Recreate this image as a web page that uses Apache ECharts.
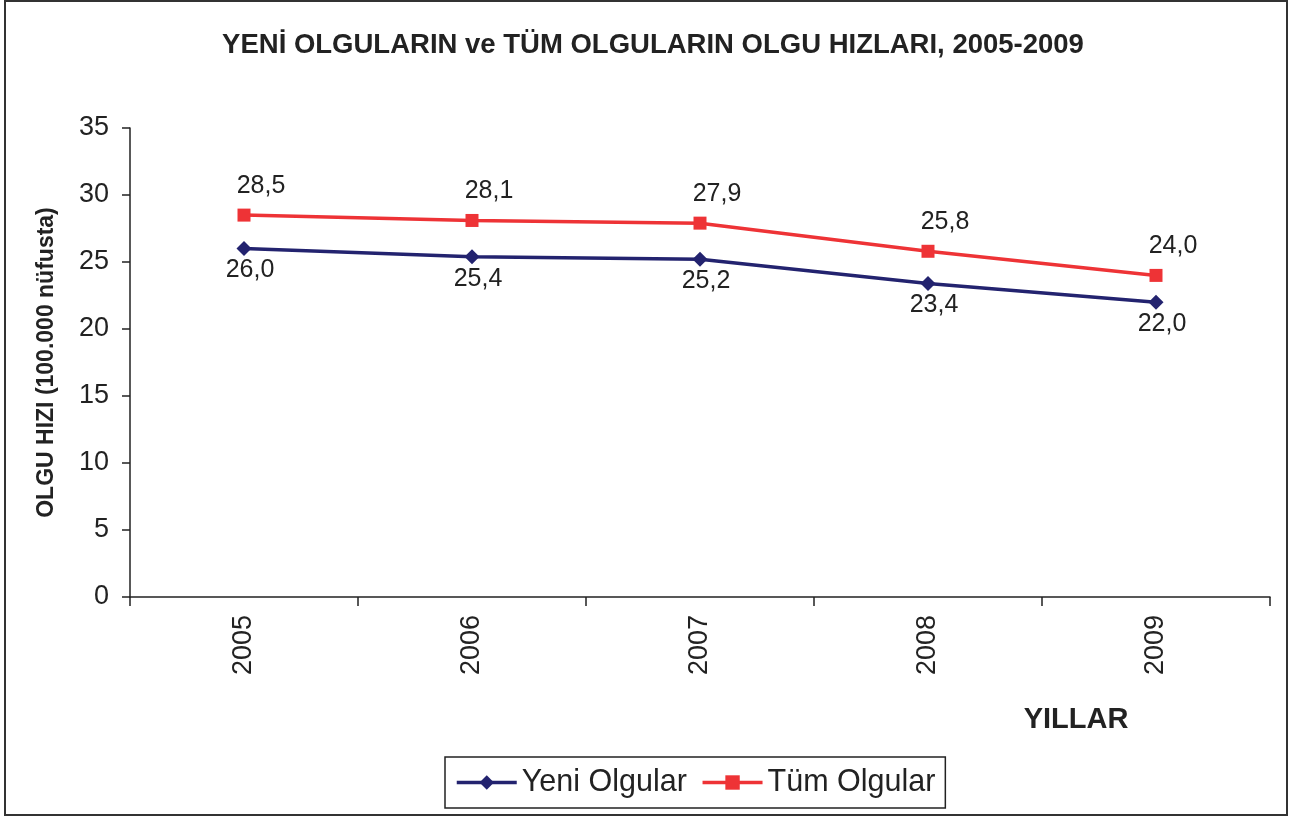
<!DOCTYPE html>
<html>
<head>
<meta charset="utf-8">
<script src="https://cdn.jsdelivr.net/npm/echarts@6/dist/echarts.min.js"></script>
<style>
  html, body { margin: 0; padding: 0; background: #fff; }
  #chart { width: 1290px; height: 821px; }
</style>
</head>
<body>
<div id="chart"></div>
<script>
const years = ["2005", "2006", "2007", "2008", "2009"];
const yeniOlgular = [26.0, 25.4, 25.2, 23.4, 22.0];
const tumOlgular = [28.5, 28.1, 27.9, 25.8, 24.0];
const yTicks = [0, 5, 10, 15, 20, 25, 30, 35];

const fontFamily = "Liberation Sans, Arial, sans-serif";
const fmt = (p) => p.value.toFixed(1).replace(".", ",");

const chart = echarts.init(document.getElementById("chart"));

const option = {
  backgroundColor: "#fff",
  animation: false,
  textStyle: { fontFamily: fontFamily },
  title: [
    {
      text: "YENİ OLGULARIN ve TÜM OLGULARIN OLGU HIZLARI, 2005-2009",
      left: 648,
      top: 26,
      textAlign: "center",
      textStyle: { fontSize: 27.5, fontWeight: "bold", color: "#222", fontFamily: fontFamily },
    },
    {
      text: "YILLAR",
      left: 1071,
      top: 700,
      textAlign: "center",
      textStyle: { fontSize: 29, fontWeight: "bold", color: "#222", fontFamily: fontFamily },
    },
  ],
  graphic: [
    {
      type: "rect",
      shape: { x: 5, y: 1, width: 1282, height: 814 },
      style: { fill: "none", stroke: "#333", lineWidth: 2 },
      silent: true,
    },
  ],
  legend: {
    left: 445,
    top: 757,
    itemWidth: 60,
    itemHeight: 18,
    itemGap: 14,
    padding: [10, 10, 10, 10],
    borderColor: "#222",
    borderWidth: 1.5,
    borderRadius: 0,
    lineStyle: { width: 3.5 },
    textStyle: { fontSize: 30.5, color: "#222", fontFamily: fontFamily },
    data: ["Yeni Olgular", "Tüm Olgular"],
  },
  grid: { left: 130, right: 20, top: 128, bottom: 224 },
  xAxis: {
    type: "category",
    data: years,
    boundaryGap: true,
    axisLine: { lineStyle: { color: "#222", width: 1.5 } },
    axisTick: { show: true, length: 9, lineStyle: { color: "#222", width: 1.5 } },
    axisLabel: { rotate: 90, margin: 18, fontSize: 27, color: "#222", fontFamily: fontFamily },
    splitLine: { show: false },
  },
  yAxis: {
    type: "value",
    min: yTicks[0],
    max: yTicks[yTicks.length - 1],
    interval: 5,
    name: "OLGU HIZI (100.000 nüfusta)",
    nameLocation: "middle",
    nameGap: 72,
    nameTextStyle: { fontSize: 23, fontWeight: "bold", color: "#222", fontFamily: fontFamily },
    axisLine: { show: true, lineStyle: { color: "#222", width: 1.5 } },
    axisTick: { show: true, length: 8, lineStyle: { color: "#222", width: 1.5 } },
    axisLabel: { margin: 21, fontSize: 27, color: "#222", fontFamily: fontFamily },
    splitLine: { show: false },
  },
  series: [
    {
      name: "Yeni Olgular",
      type: "line",
      data: yeniOlgular,
      color: "#23236f",
      symbol: "diamond",
      symbolSize: 15,
      lineStyle: { width: 3.5, color: "#23236f" },
      itemStyle: { color: "#23236f" },
      label: {
        show: true,
        position: "bottom",
        offset: [6, -2],
        distance: 4,
        formatter: fmt,
        fontSize: 25,
        color: "#222",
        fontFamily: fontFamily,
      },
    },
    {
      name: "Tüm Olgular",
      type: "line",
      data: tumOlgular,
      color: "#ee3336",
      symbol: "rect",
      symbolSize: 13,
      lineStyle: { width: 3.5, color: "#ee3336" },
      itemStyle: { color: "#ee3336" },
      label: {
        show: true,
        position: "top",
        offset: [17, -4],
        distance: 6,
        formatter: fmt,
        fontSize: 25,
        color: "#222",
        fontFamily: fontFamily,
      },
    },
  ],
};

option && chart.setOption(option);
</script>
</body>
</html>
